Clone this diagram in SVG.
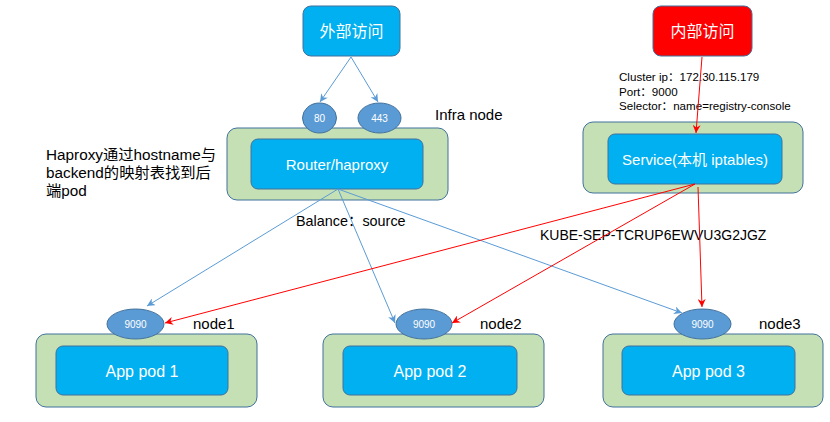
<svg xmlns="http://www.w3.org/2000/svg" width="830" height="422" viewBox="0 0 830 422">
<style>
.blue{fill:#00B0F0;stroke:#41719C;stroke-width:1}
.red{fill:#FF0000;stroke:#41719C;stroke-width:1}
.green{fill:#C5E0B4;stroke:#41719C;stroke-width:1}
.port{fill:#5B9BD5;stroke:#41719C;stroke-width:1}
.wt{fill:#fff;font-family:"Liberation Sans","Noto Sans CJK SC",sans-serif;text-anchor:middle;dominant-baseline:central}
.bt{fill:#000;font-family:"Liberation Sans","Noto Sans CJK SC",sans-serif}
.bl{stroke:#5B9BD5;stroke-width:1;fill:none;marker-end:url(#ab)}
.rl{stroke:#FF0000;stroke-width:1;fill:none;marker-end:url(#ar)}
</style>
<defs>
<marker id="ab" viewBox="0 0 10 10" refX="10" refY="5" markerWidth="8" markerHeight="8" markerUnits="userSpaceOnUse" orient="auto"><path d="M0,0 L10,5 L0,10 L3,5 Z" fill="#5B9BD5"/></marker>
<marker id="ar" viewBox="0 0 10 10" refX="10" refY="5" markerWidth="8" markerHeight="8" markerUnits="userSpaceOnUse" orient="auto"><path d="M0,0 L10,5 L0,10 L3,5 Z" fill="#FF0000"/></marker>
</defs>
<rect width="830" height="422" fill="#fff"/>
<g id="external">
<rect class="blue" x="303" y="6" width="97" height="50" rx="8"/>
<text class="wt" x="351.5" y="31" font-size="16">外部访问</text>
</g>
<g id="internal">
<rect class="red" x="653" y="6" width="99" height="50" rx="8"/>
<text class="wt" x="702.5" y="31" font-size="16">内部访问</text>
</g>
<g id="infra-node">
<rect class="green" x="227" y="128" width="221" height="72" rx="10"/>
<rect class="blue" x="251" y="139" width="172" height="50" rx="7"/>
<text class="wt" x="337" y="164" font-size="15">Router/haproxy</text>
<text class="bt" x="435" y="120" font-size="15">Infra node</text>
</g>
<g id="port80">
<ellipse class="port" cx="319.5" cy="118" rx="17" ry="15"/>
<text class="wt" x="319.5" y="118" font-size="10">80</text>
</g>
<g id="port443">
<ellipse class="port" cx="379.5" cy="118" rx="21.5" ry="15"/>
<text class="wt" x="379.5" y="118" font-size="10">443</text>
</g>
<g id="service-node">
<rect class="green" x="583" y="122" width="220" height="71" rx="10"/>
<rect class="blue" x="608" y="134" width="174" height="50" rx="7"/>
<text class="wt" x="695" y="159" font-size="15">Service(本机 iptables)</text>
</g>
<g id="notes">
<text class="bt" x="46" y="160" font-size="15.3">Haproxy通过hostname与</text>
<text class="bt" x="46" y="178" font-size="15.3">backend的映射表找到后</text>
<text class="bt" x="46" y="196" font-size="15.3">端pod</text>
<text class="bt" x="619" y="81" font-size="11.6">Cluster ip：172.30.115.179</text>
<text class="bt" x="619" y="96" font-size="11.6">Port：9000</text>
<text class="bt" x="619" y="110" font-size="11.6">Selector：name=registry-console</text>
<text class="bt" x="296" y="226" font-size="14.4">Balance：source</text>
<text class="bt" x="540" y="240" font-size="14">KUBE-SEP-TCRUP6EWVU3G2JGZ</text>
</g>
<g id="node1">
<rect class="green" x="36" y="334" width="221" height="73" rx="10"/>
<rect class="blue" x="56" y="346" width="172" height="49" rx="7"/>
<text class="wt" x="142" y="371" font-size="16">App pod 1</text>
<text class="bt" x="193" y="329" font-size="15">node1</text>
<ellipse class="port" cx="135.5" cy="324" rx="28.5" ry="15"/>
<text class="wt" x="135.5" y="324" font-size="10">9090</text>
</g>
<g id="node2">
<rect class="green" x="323" y="334" width="221" height="73" rx="10"/>
<rect class="blue" x="343" y="346" width="174" height="49" rx="7"/>
<text class="wt" x="430" y="371" font-size="16">App pod 2</text>
<text class="bt" x="480" y="329" font-size="15">node2</text>
<ellipse class="port" cx="424" cy="324" rx="28" ry="15"/>
<text class="wt" x="424" y="324" font-size="10">9090</text>
</g>
<g id="node3">
<rect class="green" x="603" y="334" width="220" height="73" rx="10"/>
<rect class="blue" x="622" y="346" width="173" height="49" rx="7"/>
<text class="wt" x="708.5" y="371" font-size="16">App pod 3</text>
<text class="bt" x="759" y="329" font-size="15">node3</text>
<ellipse class="port" cx="702.5" cy="324" rx="28.5" ry="15"/>
<text class="wt" x="702.5" y="324" font-size="10">9090</text>
</g>
<g id="connectors">
<line class="bl" x1="351" y1="57" x2="320" y2="102"/>
<line class="bl" x1="351" y1="57" x2="378" y2="102"/>
<line class="bl" x1="338" y1="189" x2="147" y2="306"/>
<line class="bl" x1="338" y1="189" x2="395" y2="323"/>
<line class="bl" x1="338" y1="189" x2="682" y2="313"/>
<line class="rl" x1="702" y1="57" x2="696" y2="133"/>
<line class="rl" x1="695" y1="184" x2="165" y2="323"/>
<line class="rl" x1="695" y1="184" x2="452" y2="323"/>
<line class="rl" x1="698" y1="187" x2="702" y2="307"/>
</g>
</svg>
